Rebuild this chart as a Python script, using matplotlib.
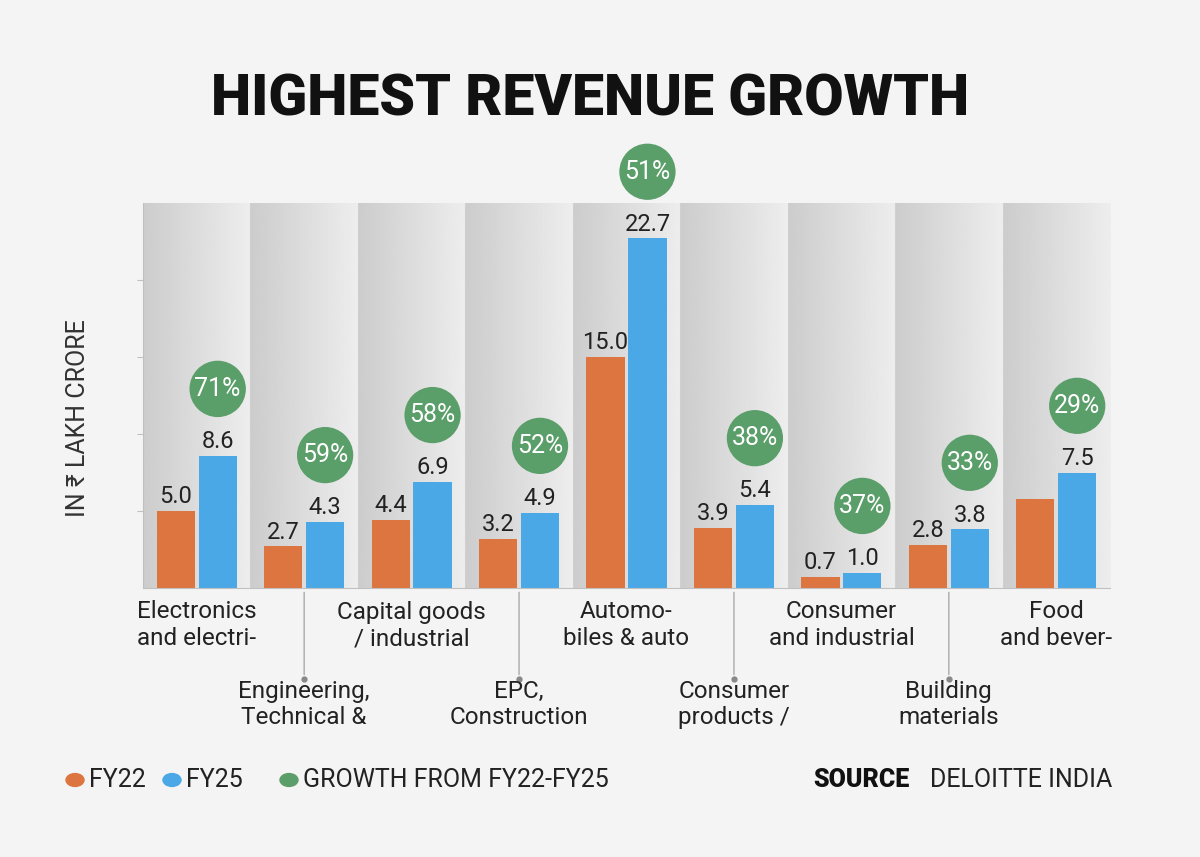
import matplotlib.pyplot as plt
import numpy as np

plt.rcParams['font.family'] = ['Roboto', 'DejaVu Sans']

sectors = ["Electronics\nand electri-", "Engineering,\nTechnical &", "Capital goods\n/ industrial",
           "EPC,\nConstruction", "Automo-\nbiles & auto", "Consumer\nproducts /",
           "Consumer\nand industrial", "Building\nmaterials", "Food\nand bever-"]
fy22 = [5.0, 2.7, 4.4, 3.2, 15.0, 3.9, 0.7, 2.8, 5.8]
fy25 = [8.6, 4.3, 6.9, 4.9, 22.7, 5.4, 1.0, 3.8, 7.5]
growth = ["71%", "59%", "58%", "52%", "51%", "38%", "37%", "33%", "29%"]
show_fy22_label = [True, True, True, True, True, True, True, True, False]

orange = '#dc7540'
blue = '#4aa8e6'
green = '#5a9e69'
bg = '#f4f4f4'

fig = plt.figure(figsize=(12, 8.57), dpi=100, facecolor=bg)
ax = fig.add_axes([143/1200, 269/857, 967/1200, 385/857])
ax.set_facecolor(bg)
ax.set_xlim(-0.5, 8.5)
ax.set_ylim(0, 25)

# gradient column backgrounds
grad = np.linspace(0.80, 0.93, 100).reshape(1, -1)
for i in range(len(sectors)):
    ax.imshow(grad, cmap='gray', vmin=0, vmax=1, aspect='auto',
              extent=(i - 0.5, i + 0.5, 0, 25), zorder=0)
    ax.axvline(i - 0.5, color='#d0d0d0', lw=0.8, zorder=0.5)

x = np.arange(len(sectors))
w = 0.355
ax.bar(x - 0.195, fy22, w, color=orange, zorder=2)
ax.bar(x + 0.195, fy25, w, color=blue, zorder=2)

for i in range(len(sectors)):
    if show_fy22_label[i]:
        ax.annotate(f"{fy22[i]:.1f}", (x[i] - 0.195, fy22[i]), xytext=(0, 2),
                    textcoords='offset points', ha='center', va='bottom', fontsize=17, color='#222222')
    ax.annotate(f"{fy25[i]:.1f}", (x[i] + 0.195, fy25[i]), xytext=(0, 2),
                textcoords='offset points', ha='center', va='bottom', fontsize=17, color='#222222')
    ax.annotate(growth[i], (x[i] + 0.195, fy25[i]), xytext=(0, 48),
                textcoords='offset points', ha='center', va='center', fontsize=18, color='white',
                bbox=dict(boxstyle='circle,pad=0.2', fc=green, ec='none'), annotation_clip=False)

for s in ['top', 'right']:
    ax.spines[s].set_visible(False)
for s in ['left', 'bottom']:
    ax.spines[s].set_color('#c0c0c0')
ax.set_xticks([])
ax.set_yticks([5, 10, 15, 20])
ax.set_yticklabels([])
ax.tick_params(axis='y', length=4, color='#c0c0c0')

# category labels, alternating rows
for i, lab in enumerate(sectors):
    if i % 2 == 0:
        ax.annotate(lab, (x[i], 0), xytext=(0, -9), textcoords='offset points',
                    ha='center', va='top', fontsize=17.5, color='#222222',
                    linespacing=1.2, annotation_clip=False)
    else:
        ax.annotate(lab, (x[i], 0), xytext=(0, -66), textcoords='offset points',
                    ha='center', va='top', fontsize=17.5, color='#222222',
                    linespacing=1.2, annotation_clip=False)
        ax.annotate('', (x[i], -0.1), xytext=(x[i], -5.8), annotation_clip=False,
                    arrowprops=dict(arrowstyle='-', color='#aaaaaa', lw=1))
        ax.plot(x[i], -5.9, 'o', color='#888888', ms=3.5, clip_on=False)

fig.text(590/1200, 1 - 100/857, "HIGHEST REVENUE GROWTH", ha='center', va='center',
         fontsize=41, fontweight='black', color='#111111')
fig.text(78/1200, 1 - 418/857, "IN ₹ LAKH CRORE", rotation=90, ha='center', va='center',
         fontsize=18, color='#333333')

# legend
ly = 1 - 780/857
for px, col, txt in [(75, orange, "FY22"), (172, blue, "FY25"), (289, green, "GROWTH FROM FY22-FY25")]:
    fig.patches.append(plt.Circle((px/1200, ly), 0.0075, color=col, transform=fig.transFigure,
                                  figure=fig))
    fig.text((px + 14)/1200, ly, txt, ha='left', va='center', fontsize=18, color='#222222')
fig.text(1112/1200, ly, "DELOITTE INDIA", ha='right', va='center', fontsize=18, color='#222222')
fig.text(910/1200, ly, "SOURCE", ha='right', va='center', fontsize=18, fontweight='black', color='#111111')

fig.savefig('out.png', dpi=100, facecolor=bg)
